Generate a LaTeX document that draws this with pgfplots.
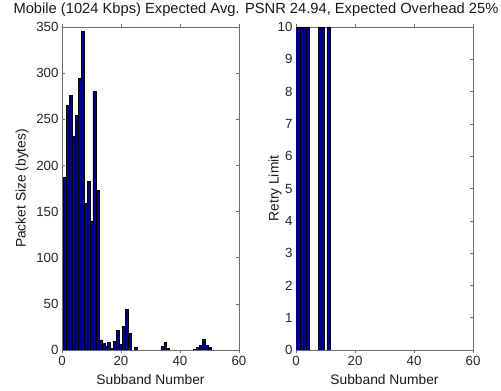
\documentclass[border=0pt]{standalone}
\usepackage{pgfplots}
\pgfplotsset{compat=1.18}
\usepackage{fontspec}
\setmainfont{Liberation Sans}
\definecolor{barblue}{RGB}{0,0,143}
\definecolor{axgray}{RGB}{110,110,110}
\pgfplotstableread{
x y
1 187
2 265
3 276
4 232
5 254
6 294
7 345
8 159
9 183
10 139
11 280
12 173
13 11
14 7
15 4
16 8
17 2
18 9
19 21
20 6
21 26
22 44
23 18
25 3
34 4
35 8
36 2
45 1
46 3
47 5
48 12
49 5
50 3
}\sizes
\pgfplotstableread{
x y
0 10
1 10
2 10
3 10
4 10
8 10
9 10
11 10
}\retry
\begin{document}
\begin{tikzpicture}
\useasboundingbox (0pt,0pt) rectangle (501pt,391pt);
\pgfplotsset{
  every axis/.append style={
    scale only axis, width=177pt, height=323pt,
    anchor=south west,
    xmin=0, xmax=60, xtick={0,20,40,60},
    axis line style={axgray},
    tick style={axgray, line width=0.5pt},
    major tick length=3pt,
    tick align=inside,
    ticklabel style={font=\fontsize{13.3}{14}\selectfont, text=black!85},
    /pgf/number format/assume math mode=true,
    ylabel style={font=\fontsize{13.8}{15}\selectfont, text=black!90, anchor=center},
    xlabel style={font=\fontsize{13.8}{15}\selectfont, text=black!90, anchor=center,
      at={(axis description cs:0.5,-0.093)}},
    ybar, bar width=1,
  },
}
\begin{axis}[at={(62pt,41pt)}, ymin=0, ymax=350, ytick={0,50,...,350},
  xlabel={Subband Number}, ylabel={Packet Size (bytes)},
  ylabel style={at={(axis description cs:-0.226,0.5)}}]
\addplot[fill=barblue, draw=black, line width=0.5pt] table[x=x,y=y]{\sizes};
\end{axis}
\begin{axis}[at={(296pt,41pt)}, ymin=0, ymax=10, ytick={0,1,...,10},
  xlabel={Subband Number}, ylabel={Retry Limit},
  ylabel style={at={(axis description cs:-0.119,0.5)}}]
\addplot[fill=barblue, draw=black, line width=0.5pt] table[x=x,y=y]{\retry};
\end{axis}
\node[font=\fontsize{14.7}{16}\selectfont, text=black!90] at (256pt,381pt) {Mobile (1024 Kbps) Expected Avg. PSNR 24.94, Expected Overhead 25\%};
\end{tikzpicture}
\end{document}
